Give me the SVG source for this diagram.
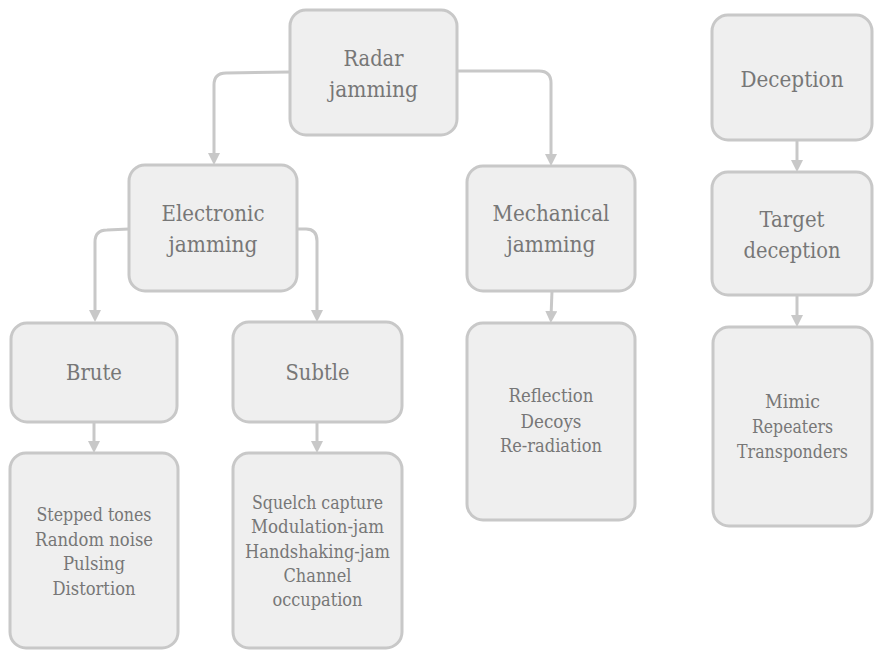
<svg xmlns="http://www.w3.org/2000/svg" width="874" height="650" viewBox="0 0 874 650">
<defs>
<style>
.box{fill:#efefef;stroke:#c8c8c8;stroke-width:3}
text{font-family:'DejaVu Serif','Liberation Serif',serif;fill:#777777;text-anchor:middle}
.t{font-size:22px}
.s{font-size:18px}
.c{fill:none;stroke:#c8c8c8;stroke-width:3}
</style>
<marker id="ah" markerUnits="userSpaceOnUse" markerWidth="12" markerHeight="12" refX="6" refY="6" orient="auto">
<path d="M0,0 L12,6 L0,12 z" fill="#c8c8c8"/>
</marker>
</defs>
<rect width="874" height="650" fill="#ffffff"/>
<g id="connectors">
<path class="c" marker-end="url(#ah)" d="M290,72 L226,73 Q214,73 214,85 L214,159"/>
<path class="c" marker-end="url(#ah)" d="M457,71 L539,71 Q551,71 551,83 L551,160"/>
<path class="c" marker-end="url(#ah)" d="M129,229 L107,230 Q95,230 95,242 L95,316"/>
<path class="c" marker-end="url(#ah)" d="M297,229 L306,229 Q317,229 317,241 L317,316"/>
<path class="c" marker-end="url(#ah)" d="M94,422 L94,447"/>
<path class="c" marker-end="url(#ah)" d="M317,422 L317,447"/>
<path class="c" marker-end="url(#ah)" d="M552,291 L551,317"/>
<path class="c" marker-end="url(#ah)" d="M797,140 L797,166"/>
<path class="c" marker-end="url(#ah)" d="M797,295 L797,321"/>
</g>
<g id="radar">
<rect class="box" x="290" y="10" width="167" height="125" rx="16"/>
<text class="t" x="373.5" y="65.5" textLength="60" lengthAdjust="spacingAndGlyphs">Radar</text>
<text class="t" x="373.5" y="96.5" textLength="89" lengthAdjust="spacingAndGlyphs">jamming</text>
</g>
<g id="electronic">
<rect class="box" x="129" y="165" width="168" height="126" rx="16"/>
<text class="t" x="213" y="221" textLength="103" lengthAdjust="spacingAndGlyphs">Electronic</text>
<text class="t" x="213" y="252" textLength="89" lengthAdjust="spacingAndGlyphs">jamming</text>
</g>
<g id="mechanical">
<rect class="box" x="467" y="166" width="168" height="125" rx="16"/>
<text class="t" x="551" y="221" textLength="117" lengthAdjust="spacingAndGlyphs">Mechanical</text>
<text class="t" x="551" y="252" textLength="89" lengthAdjust="spacingAndGlyphs">jamming</text>
</g>
<g id="brute">
<rect class="box" x="11" y="323" width="166" height="99" rx="16"/>
<text class="t" x="94" y="380" textLength="56" lengthAdjust="spacingAndGlyphs">Brute</text>
</g>
<g id="subtle">
<rect class="box" x="233" y="322" width="169" height="100" rx="16"/>
<text class="t" x="317.5" y="380" textLength="64" lengthAdjust="spacingAndGlyphs">Subtle</text>
</g>
<g id="brute-list">
<rect class="box" x="10" y="453" width="168" height="195" rx="16"/>
<text class="s" x="94" y="521" textLength="115" lengthAdjust="spacingAndGlyphs">Stepped tones</text>
<text class="s" x="94" y="545.5" textLength="118" lengthAdjust="spacingAndGlyphs">Random noise</text>
<text class="s" x="94" y="570" textLength="62" lengthAdjust="spacingAndGlyphs">Pulsing</text>
<text class="s" x="94" y="594.5" textLength="83" lengthAdjust="spacingAndGlyphs">Distortion</text>
</g>
<g id="subtle-list">
<rect class="box" x="233" y="453" width="169" height="195" rx="16"/>
<text class="s" x="317.5" y="509" textLength="131" lengthAdjust="spacingAndGlyphs">Squelch capture</text>
<text class="s" x="317.5" y="533" textLength="133" lengthAdjust="spacingAndGlyphs">Modulation-jam</text>
<text class="s" x="317.5" y="557.5" textLength="145" lengthAdjust="spacingAndGlyphs">Handshaking-jam</text>
<text class="s" x="317.5" y="582" textLength="68" lengthAdjust="spacingAndGlyphs">Channel</text>
<text class="s" x="317.5" y="606" textLength="90" lengthAdjust="spacingAndGlyphs">occupation</text>
</g>
<g id="mechanical-list">
<rect class="box" x="467" y="323" width="168" height="197" rx="16"/>
<text class="s" x="551" y="402" textLength="85" lengthAdjust="spacingAndGlyphs">Reflection</text>
<text class="s" x="551" y="427.5" textLength="61" lengthAdjust="spacingAndGlyphs">Decoys</text>
<text class="s" x="551" y="452" textLength="102" lengthAdjust="spacingAndGlyphs">Re-radiation</text>
</g>
<g id="deception">
<rect class="box" x="712" y="15" width="160" height="125" rx="16"/>
<text class="t" x="792" y="86.5" textLength="103" lengthAdjust="spacingAndGlyphs">Deception</text>
</g>
<g id="target-deception">
<rect class="box" x="712" y="172" width="160" height="123" rx="16"/>
<text class="t" x="792" y="227" textLength="65" lengthAdjust="spacingAndGlyphs">Target</text>
<text class="t" x="792" y="258" textLength="97" lengthAdjust="spacingAndGlyphs">deception</text>
</g>
<g id="target-list">
<rect class="box" x="713" y="327" width="159" height="199" rx="16"/>
<text class="s" x="792.5" y="408" textLength="55" lengthAdjust="spacingAndGlyphs">Mimic</text>
<text class="s" x="792.5" y="433" textLength="81" lengthAdjust="spacingAndGlyphs">Repeaters</text>
<text class="s" x="792.5" y="458" textLength="111" lengthAdjust="spacingAndGlyphs">Transponders</text>
</g>
</svg>
